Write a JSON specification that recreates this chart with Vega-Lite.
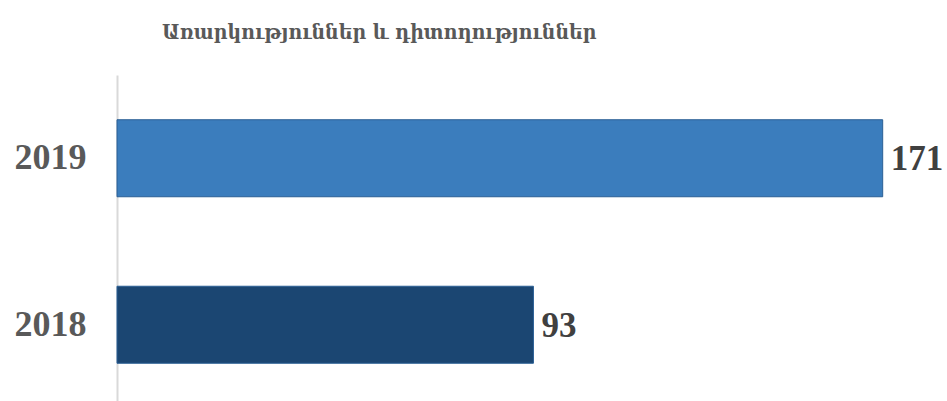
{
  "$schema": "https://vega.github.io/schema/vega-lite/v6.json",
  "autosize": {"type": "none"},
  "padding": {"left": 117, "top": 75, "right": 24, "bottom": 0},
  "width": 806,
  "height": 333,
  "background": "white",
  "title": {
    "text": "Առարկություններ և դիտողություններ",
    "anchor": "start",
    "frame": "group",
    "dx": 45,
    "offset": 32,
    "font": "DejaVu Serif Condensed",
    "fontSize": 21,
    "fontWeight": "bold",
    "color": "#595959"
  },
  "data": {
    "values": [
      {"year": "2019", "count": 171},
      {"year": "2018", "count": 93}
    ]
  },
  "encoding": {
    "y": {
      "field": "year",
      "type": "nominal",
      "sort": ["2019", "2018"],
      "scale": {"paddingInner": 0.5375, "paddingOuter": 0.26875},
      "axis": {
        "title": null,
        "ticks": false,
        "domainColor": "#d9d9d9",
        "domainWidth": 2,
        "labelFont": "Liberation Serif",
        "labelFontSize": 36,
        "labelFontWeight": "bold",
        "labelColor": "#595959",
        "labelPadding": 31
      }
    },
    "x": {
      "field": "count",
      "type": "quantitative",
      "scale": {"domain": [0, 180]},
      "axis": null
    }
  },
  "layer": [
    {
      "mark": {"type": "bar", "stroke": "#2a5f94", "strokeWidth": 1},
      "encoding": {
        "color": {
          "field": "year",
          "type": "nominal",
          "scale": {"domain": ["2019", "2018"], "range": ["#3b7dbd", "#1b4672"]},
          "legend": null
        }
      }
    },
    {
      "mark": {
        "type": "text",
        "align": "left",
        "baseline": "middle",
        "dx": 8,
        "dy": 1,
        "font": "Liberation Serif",
        "fontSize": 35,
        "fontWeight": "bold",
        "color": "#404040"
      },
      "encoding": {
        "text": {"field": "count", "type": "quantitative"}
      }
    }
  ],
  "config": {"view": {"stroke": null}}
}
